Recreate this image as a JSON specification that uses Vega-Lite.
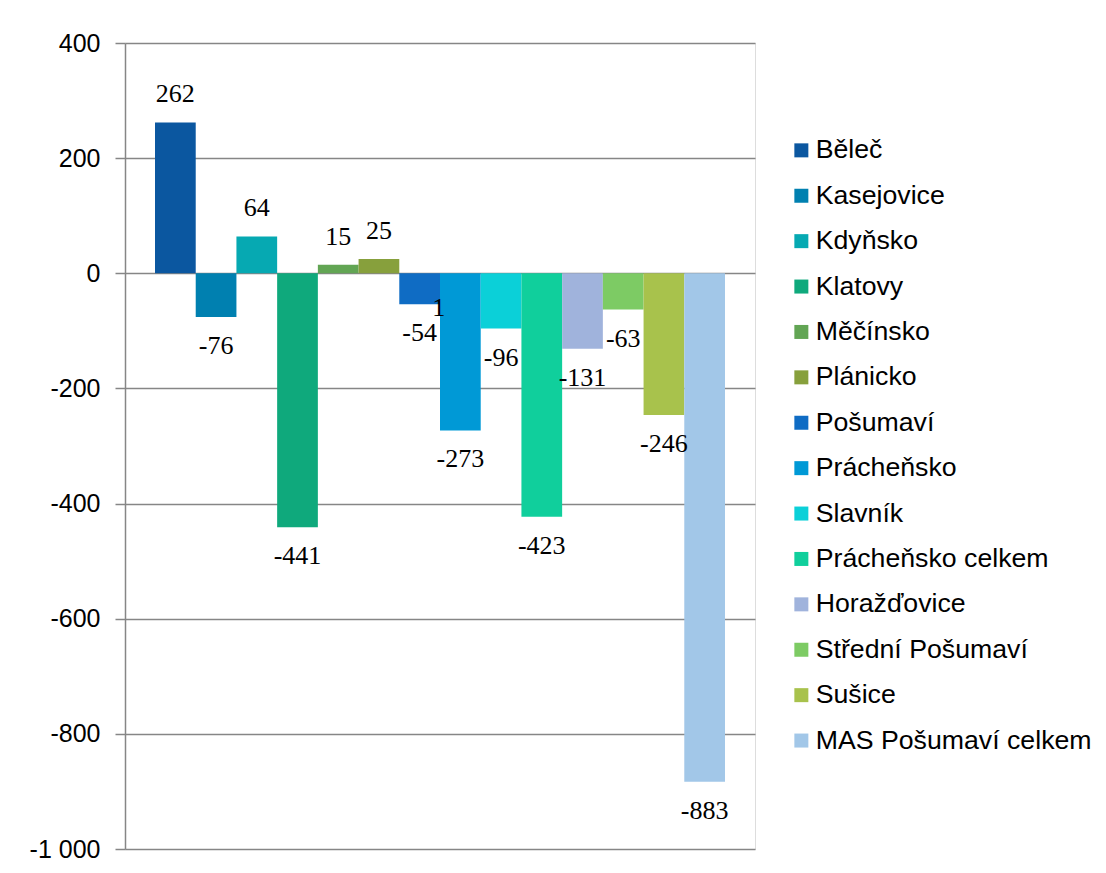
{
  "$schema": "https://vega.github.io/schema/vega-lite/v6.json",
  "width": 630,
  "height": 806,
  "autosize": {"type": "none"},
  "padding": {"left": 125, "top": 43, "right": 351, "bottom": 24},
  "background": "white",
  "datasets": {
    "main": [
      {"name": "Běleč", "value": 262},
      {"name": "Kasejovice", "value": -76},
      {"name": "Kdyňsko", "value": 64},
      {"name": "Klatovy", "value": -441},
      {"name": "Měčínsko", "value": 15},
      {"name": "Plánicko", "value": 25},
      {"name": "Pošumaví", "value": -54},
      {"name": "Prácheňsko", "value": -273},
      {"name": "Slavník", "value": -96},
      {"name": "Prácheňsko celkem", "value": -423},
      {"name": "Horažďovice", "value": -131},
      {"name": "Střední Pošumaví", "value": -63},
      {"name": "Sušice", "value": -246},
      {"name": "MAS Pošumaví celkem", "value": -883}
    ],
    "stray": [
      {"name": "Pošumaví", "value": -54, "t": "1"}
    ]
  },
  "data": {"name": "main"},
  "encoding": {
    "x": {
      "field": "name",
      "type": "nominal",
      "sort": null,
      "axis": null,
      "scale": {"paddingInner": 0, "paddingOuter": 0.737}
    },
    "y": {
      "field": "value",
      "type": "quantitative",
      "scale": {"domain": [-1000, 400], "nice": false, "zero": false},
      "axis": {
        "title": null,
        "values": [-1000, -800, -600, -400, -200, 0, 200, 400],
        "labelExpr": "replace(replace(format(datum.value, ','), ',', ' '), '\u2212', '-')",
        "labelFont": "Liberation Sans",
        "labelFontSize": 25,
        "labelColor": "#000000",
        "labelPadding": 15,
        "tickSize": 10,
        "tickColor": "#868686",
        "tickWidth": 1.5,
        "domainColor": "#868686",
        "domainWidth": 1.5,
        "grid": true,
        "gridColor": "#868686",
        "gridWidth": 1.5,
        "gridOpacity": 1
      }
    }
  },
  "layer": [
    {
      "mark": {"type": "bar", "binSpacing": 0},
      "encoding": {
        "color": {
          "field": "name",
          "type": "nominal",
          "sort": null,
          "scale": {
            "domain": ["Běleč", "Kasejovice", "Kdyňsko", "Klatovy", "Měčínsko", "Plánicko", "Pošumaví", "Prácheňsko", "Slavník", "Prácheňsko celkem", "Horažďovice", "Střední Pošumaví", "Sušice", "MAS Pošumaví celkem"],
            "range": ["#0b57a0", "#0080b0", "#06a9b2", "#0fa97c", "#62a554", "#87a03c", "#0f6cc4", "#0099d6", "#0bd0d8", "#10cf9c", "#a0b3dc", "#7dcb64", "#a8c24c", "#a2c7e8"]
          },
          "legend": {
            "title": null,
            "orient": "none",
            "legendX": 663,
            "legendY": 94,
            "padding": 0,
            "symbolType": "square",
            "symbolSize": 196,
            "symbolStrokeWidth": 0,
            "symbolOpacity": 1,
            "labelFont": "Liberation Sans",
            "labelFontSize": 26.7,
            "labelColor": "#000000",
            "labelOffset": 1,
            "rowPadding": 17.4,
            "labelLimit": 400
          }
        }
      }
    },
    {
      "transform": [{"filter": "datum.value >= 0"}],
      "mark": {"type": "text", "font": "Liberation Serif", "fontSize": 26, "color": "#000000", "baseline": "alphabetic", "dy": -20},
      "encoding": {"text": {"field": "value", "type": "nominal"}}
    },
    {
      "transform": [{"filter": "datum.value < 0"}],
      "mark": {"type": "text", "font": "Liberation Serif", "fontSize": 26, "color": "#000000", "baseline": "alphabetic", "dy": 37},
      "encoding": {"text": {"field": "value", "type": "nominal"}}
    },
    {
      "data": {"name": "stray"},
      "mark": {"type": "text", "font": "Liberation Serif", "fontSize": 26, "color": "#000000", "baseline": "alphabetic", "dx": 19, "dy": 12},
      "encoding": {"text": {"field": "t", "type": "nominal"}}
    }
  ]
}
